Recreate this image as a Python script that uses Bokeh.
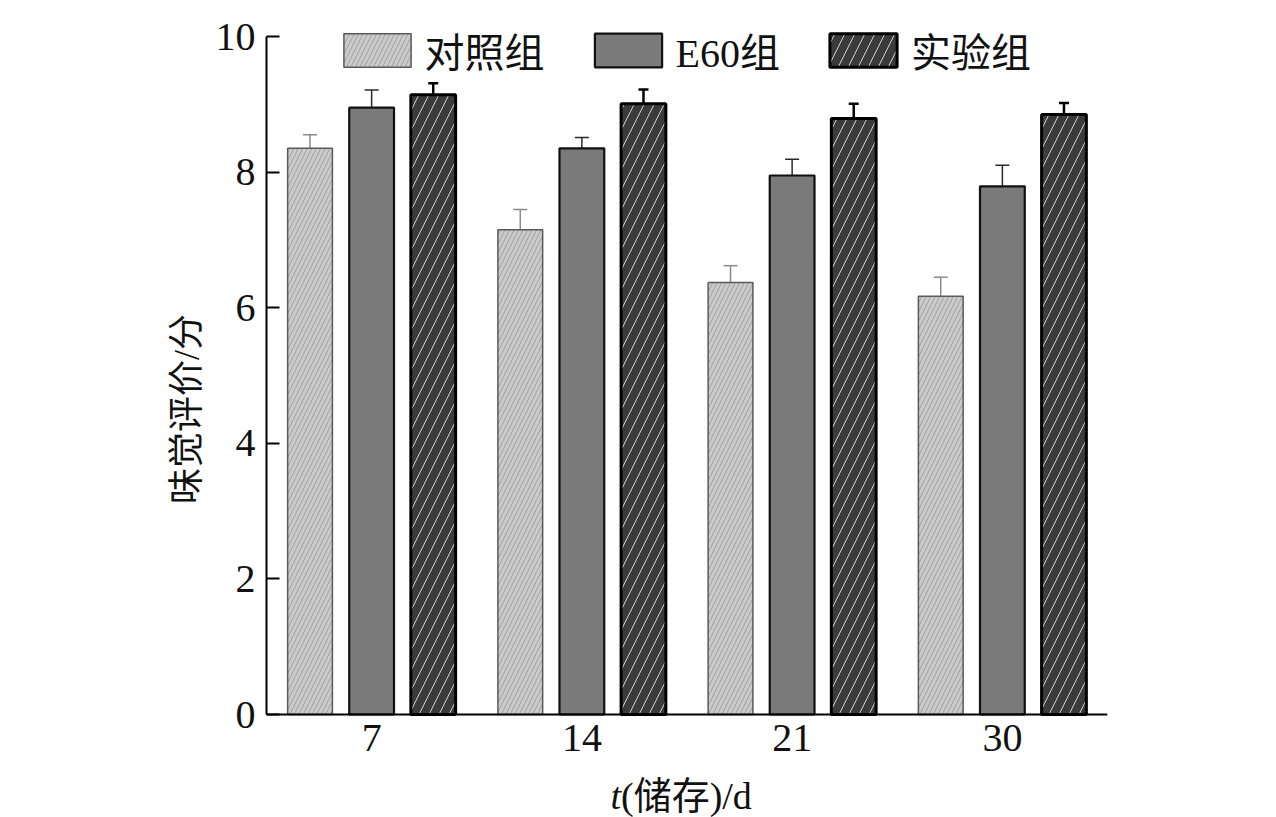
from bokeh.plotting import figure
from bokeh.models import ColumnDataSource, FactorRange, Range1d, FixedTicker, Whisker, TeeHead, Legend, LegendItem, Label
from bokeh.transform import dodge
from bokeh.core.properties import value
from bokeh.embed import file_html
from bokeh.resources import INLINE

days = ["7", "14", "21", "30"]
control = [8.35, 7.15, 6.37, 6.17]
control_err = [0.20, 0.30, 0.25, 0.28]
e60 = [8.95, 8.35, 7.95, 7.79]
e60_err = [0.26, 0.16, 0.24, 0.31]
exp = [9.14, 9.01, 8.79, 8.85]
exp_err = [0.17, 0.21, 0.22, 0.17]
series_names = ["对照组", "E60组", "实验组"]
y_ticks = [0, 2, 4, 6, 8, 10]
x_title_italic = "t"
x_title_rest = "(储存)/d"
y_title = "味觉评价/分"

SERIF = "Liberation Serif, Noto Sans CJK SC"

src = ColumnDataSource(dict(
    x=days,
    c=control, c_lo=[v - e for v, e in zip(control, control_err)], c_hi=[v + e for v, e in zip(control, control_err)],
    e=e60, e_lo=[v - e for v, e in zip(e60, e60_err)], e_hi=[v + e for v, e in zip(e60, e60_err)],
    x3=exp, x3_lo=[v - e for v, e in zip(exp, exp_err)], x3_hi=[v + e for v, e in zip(exp, exp_err)],
))

p = figure(frame_width=841, frame_height=817, x_range=FactorRange(*days, range_padding=0),
           y_range=Range1d(-1.519, 10.531), output_backend="svg", toolbar_location=None,
           min_border_left=266, min_border_right=160, min_border_top=0, min_border_bottom=0)
p.outline_line_color = None
p.xgrid.grid_line_color = None
p.ygrid.grid_line_color = None
p.background_fill_color = "white"

off = 0.293
w = 0.213
r1 = p.vbar(x=dodge("x", -off, range=p.x_range), top="c", width=w, source=src,
            fill_color="#cbcbcb", line_color="#5a5a5a", line_width=1.5,
            hatch_pattern="/", hatch_color="#a0a0a0", hatch_scale=9, hatch_weight=1)
r2 = p.vbar(x=dodge("x", 0, range=p.x_range), top="e", width=w, source=src,
            fill_color="#7a7a7a", line_color="#111111", line_width=2.2)
r3 = p.vbar(x=dodge("x", off, range=p.x_range), top="x3", width=w, source=src,
            fill_color="#3b3b3b", line_color="#000000", line_width=3,
            hatch_pattern="/", hatch_color="#d0d0d0", hatch_scale=20, hatch_weight=1)

for key, col, lw, dx, hs in [("c", "#8a8a8a", 1.5, -off, 14), ("e", "#2a2a2a", 1.5, 0, 14), ("x3", "#000000", 2.5, off, 10)]:
    wk = Whisker(source=src, base=dodge("x", dx, range=p.x_range), upper=key + "_hi", lower=key + "_lo",
                 line_color=col, line_width=lw,
                 upper_head=TeeHead(size=hs, line_color=col, line_width=lw),
                 lower_head=TeeHead(size=hs, line_color=col, line_width=lw))
    p.add_layout(wk)

# axes
p.yaxis.ticker = FixedTicker(ticks=y_ticks)
p.yaxis.bounds = (0, 10)
p.yaxis.major_tick_in = 13
p.yaxis.major_tick_out = 0
p.yaxis.minor_tick_line_color = None
p.yaxis.axis_line_width = 2
p.yaxis.major_tick_line_width = 2
p.yaxis.major_label_text_font = SERIF
p.yaxis.major_label_text_font_size = "40px"
p.yaxis.major_label_text_color = "#111111"
p.yaxis.major_label_standoff = 11
p.yaxis.axis_label = y_title
p.yaxis.axis_label_text_font = SERIF
p.yaxis.axis_label_text_font_size = "36px"
p.yaxis.axis_label_text_font_style = "normal"
p.yaxis.axis_label_text_color = "#111111"
p.yaxis.axis_label_standoff = 6

p.xaxis.fixed_location = 0
p.xaxis.major_tick_in = 0
p.xaxis.major_tick_out = 0
p.xaxis.minor_tick_line_color = None
p.xaxis.axis_line_width = 2
p.xaxis.major_label_text_font = SERIF
p.xaxis.major_label_text_font_size = "40px"
p.xaxis.major_label_text_color = "#111111"
p.xaxis.major_label_standoff = 10

# x axis title: italic t + rest
p.add_layout(Label(x=2.0, y=-1.195, text=x_title_italic, text_align="right", text_baseline="middle", x_offset=-66,
                   text_font=SERIF, text_font_size="38px", text_font_style="italic", text_color="#111111"))
p.add_layout(Label(x=2.0, y=-1.195, text=x_title_rest, text_align="left", text_baseline="middle", x_offset=-66,
                   text_font=SERIF, text_font_size="38px", text_color="#111111"))

legend = Legend(items=[LegendItem(label=series_names[0], renderers=[r1]),
                       LegendItem(label=series_names[1], renderers=[r2]),
                       LegendItem(label=series_names[2], renderers=[r3])],
                orientation="horizontal", location=(68.6, 738), padding=0, margin=0,
                glyph_width=84, glyph_height=42, label_standoff=6, spacing=41,
                label_text_font=SERIF, label_text_font_size="40px", label_text_color="#111111",
                background_fill_alpha=0, border_line_alpha=0)
p.add_layout(legend, "center")

open("out.html", "w").write(file_html(p, INLINE))
